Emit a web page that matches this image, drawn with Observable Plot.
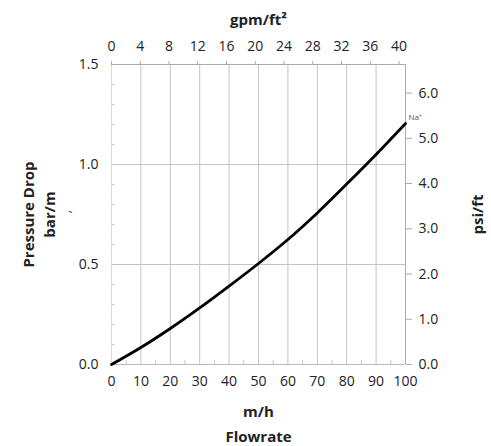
<!DOCTYPE html>
<html>
<head>
<meta charset="utf-8">
<script src="https://cdn.jsdelivr.net/npm/d3@7"></script>
<script src="https://cdn.jsdelivr.net/npm/@observablehq/plot@0.6"></script>
<style>
  html, body { margin: 0; padding: 0; background: white; }
</style>
</head>
<body>
<div id="chart"></div>
<script>
// Data
const flowrate = [0, 10, 20, 30, 40, 50, 60, 70, 80, 90, 100];           // m/h
const pressureDrop = [0, 0.085, 0.18, 0.283, 0.392, 0.505, 0.625, 0.758, 0.902, 1.05, 1.205]; // bar/m
const seriesLabel = "Na⁺";

// Tick labels
const flowTicks = [0, 10, 20, 30, 40, 50, 60, 70, 80, 90, 100];
const flowMinorTicks = [5, 15, 25, 35, 45, 55, 65, 75, 85, 95];
const gpmTicks = [0, 4, 8, 12, 16, 20, 24, 28, 32, 36, 40];
const barTicks = [0, 0.5, 1.0, 1.5];
const barMinorTicks = [0.1, 0.2, 0.3, 0.4, 0.6, 0.7, 0.8, 0.9, 1.1, 1.2, 1.3, 1.4];
const psiTicks = [0, 1, 2, 3, 4, 5, 6];
const xDomain = [0, 100];
const yDomain = [0, 1.5];

// Unit conversions
const GPM_TO_MH = 2.4448;   // 1 gpm/ft² = 2.4448 m/h
const PSI_TO_BAR = 0.22621; // 1 psi/ft = 0.22621 bar/m

const rows = flowrate.map((f, i) => ({flowrate: f, pressureDrop: pressureDrop[i]}));

const W = 491, H = 446;
const mL = 111, mR = 86, mT = 64, mB = 82;
const innerW = W - mL - mR, innerH = H - mT - mB;
const cx = mL + innerW / 2, cy = mT + innerH / 2;

const titleStyle = {frameAnchor: "middle", lineAnchor: "middle", textAnchor: "middle", fontWeight: "bold", fontSize: 15, fill: "#222"};

const chart = Plot.plot({
  width: W,
  height: H,
  marginLeft: mL,
  marginRight: mR,
  marginTop: mT,
  marginBottom: mB,
  x: {domain: xDomain},
  y: {domain: yDomain},
  style: {fontFamily: "'Open Sans', sans-serif", fontSize: "14px", color: "#222", background: "white"},
  marks: [
    // gridlines
    Plot.gridX(flowTicks.filter(d => d > xDomain[0] && d < xDomain[1]), {stroke: "#c4c4c4", strokeOpacity: 1}),
    Plot.gridY(barTicks.filter(d => d > yDomain[0] && d < yDomain[1]), {stroke: "#c4c4c4", strokeOpacity: 1}),
    // frame lines
    Plot.ruleX([xDomain[0]], {stroke: "#dadada"}),
    Plot.ruleX([xDomain[1]], {stroke: "#aaaaaa"}),
    Plot.ruleY([yDomain[0]], {stroke: "#bbbbbb"}),
    Plot.ruleY([yDomain[1]], {stroke: "#aaaaaa"}),
    // minor inward ticks
    Plot.tickX(flowMinorTicks, {insetTop: innerH - 4, stroke: "#c4c4c4"}),
    Plot.tickY(barMinorTicks, {insetRight: innerW - 4, stroke: "#d0d0d0"}),
    // axes
    Plot.axisX(flowTicks, {anchor: "bottom", tickSize: 0, tickPadding: 12, label: null, fill: "#222"}),
    Plot.axisX(gpmTicks.map(g => g * GPM_TO_MH), {
      anchor: "top", tickSize: 4, tickPadding: 10, label: null,
      stroke: "#aaaaaa", fill: "#222",
      tickFormat: d => String(Math.round(d / GPM_TO_MH))
    }),
    Plot.axisY(barTicks, {anchor: "left", tickSize: 0, tickPadding: 13, label: null, fill: "#222",
      tickFormat: d => d.toFixed(1)}),
    Plot.axisY(psiTicks.map(p => p * PSI_TO_BAR), {
      anchor: "right", tickSize: 6, tickPadding: 7, label: null,
      stroke: "#aaaaaa", fill: "#222",
      tickFormat: d => (d / PSI_TO_BAR).toFixed(1)
    }),
    // curve
    Plot.line(rows, {x: "flowrate", y: "pressureDrop", stroke: "black", strokeWidth: 2.8, curve: "monotone-x"}),
    // series label
    Plot.text([rows[rows.length - 1]], {x: "flowrate", y: "pressureDrop", text: () => seriesLabel,
      dx: 3, dy: -6, textAnchor: "start", fontSize: 8, fill: "#555"}),
    // titles
    Plot.text(["gpm/ft²"], {...titleStyle, dy: 20 - cy}),
    Plot.text(["m/h"], {...titleStyle, dy: 412 - cy}),
    Plot.text(["Flowrate"], {...titleStyle, dy: 437 - cy}),
    Plot.text(["Pressure Drop\nbar/m"], {...titleStyle, lineHeight: 1.4, dx: 37.5 - cx, rotate: -90}),
    Plot.text(["‚"], {...titleStyle, fontWeight: "normal", fontSize: 12, dx: 66 - cx, dy: -3, rotate: -90}),
    Plot.text(["psi/ft"], {...titleStyle, dx: 478 - cx, rotate: -90})
  ]
});

document.getElementById("chart").appendChild(chart);
</script>
</body>
</html>
